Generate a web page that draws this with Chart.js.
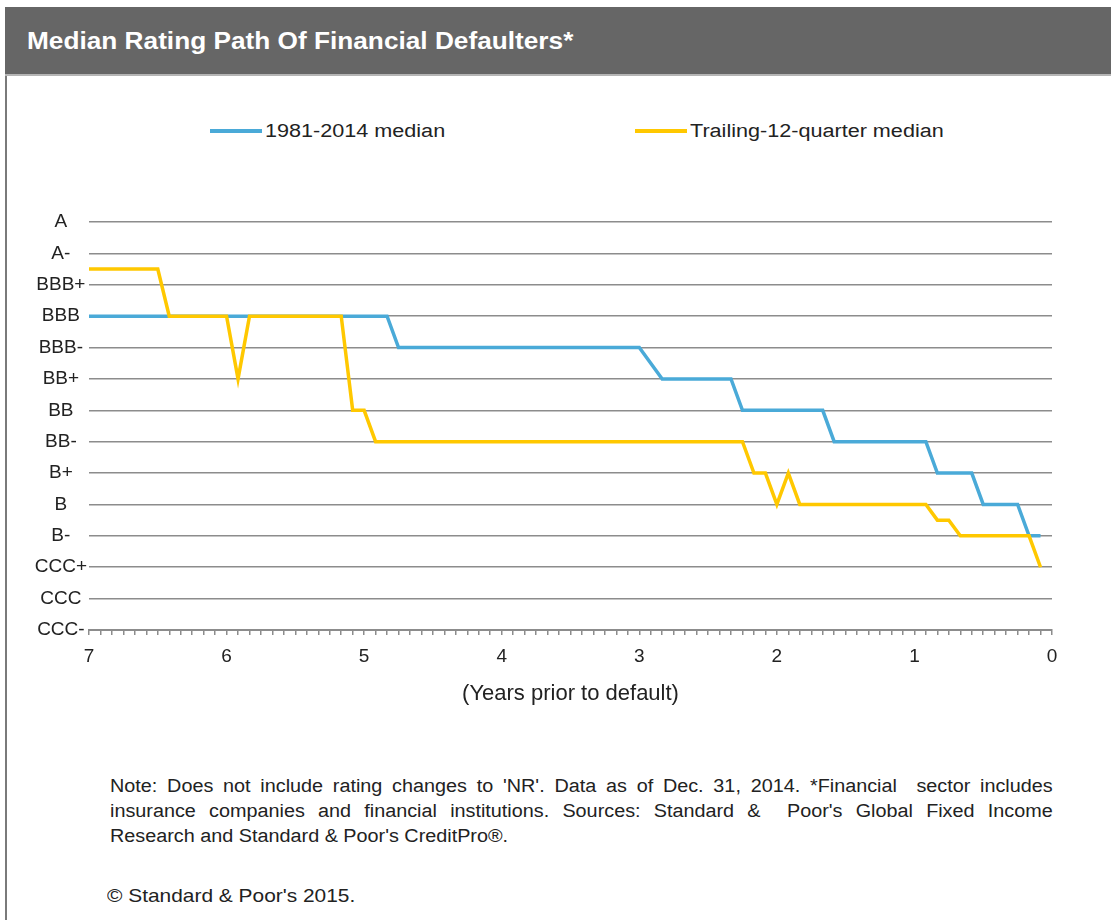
<!DOCTYPE html>
<html>
<head>
<meta charset="utf-8">
<script src="https://cdn.jsdelivr.net/npm/chart.js@4.4.1/dist/chart.umd.min.js"></script>
<style>
  html, body { margin: 0; padding: 0; background: #fff; width: 1111px; height: 920px; overflow: hidden; font-family: "Liberation Sans", Arial, sans-serif; color: #222; }
  #header { position: absolute; left: 5px; top: 7px; width: 1106px; height: 67px; background: #666666; border-bottom: 2px solid #b5b5b5; }
  #title { position: absolute; left: 22px; top: 21px; color: #fff; font-weight: bold; font-size: 23px; white-space: nowrap; transform: scaleX(1.14); transform-origin: left center; }
  #leftborder { position: absolute; left: 5px; top: 76px; width: 2px; height: 844px; background: #7a7a7a; }
  .legitem { position: absolute; top: 120px; height: 22px; }
  .legline { position: absolute; top: 9px; width: 52px; height: 4px; }
  .legtext { position: absolute; left: 55px; top: 1px; font-size: 18px; white-space: nowrap; transform: scaleX(1.2); transform-origin: left center; }
  #chartwrap { position: absolute; left: 0; top: 180px; width: 1111px; height: 540px; }
  #notes { position: absolute; left: 110px; top: 774px; width: 857px; font-size: 18px; line-height: 25px; transform: scaleX(1.1); transform-origin: left top; }
  #notes div { text-align: justify; text-align-last: justify; white-space: pre-wrap; }
  #notes div.last { text-align-last: left; }
  #copy { position: absolute; left: 107px; top: 885px; font-size: 19px; white-space: nowrap; transform: scaleX(1.1); transform-origin: left center; }
</style>
</head>
<body>
<div id="header"><div id="title">Median Rating Path Of Financial Defaulters*</div></div>
<div id="leftborder"></div>
<div id="legend"></div>
<div id="chartwrap"><canvas id="c" width="1111" height="540"></canvas></div>
<div id="notes">
  <div>Note: Does not include rating changes to 'NR'. Data as of Dec. 31, 2014. *Financial  sector includes</div>
  <div>insurance companies and financial institutions. Sources: Standard &amp;  Poor's Global Fixed Income</div>
  <div class="last">Research and Standard &amp; Poor's CreditPro®.</div>
</div>
<div id="copy">© Standard &amp; Poor's 2015.</div>
<script>
// Rating scale, bottom (0) to top (13)
const ratingLabels = ['CCC-','CCC','CCC+','B-','B','B+','BB-','BB','BB+','BBB-','BBB','BBB+','A-','A'];

// Months prior to default (x categories)
const monthsPrior = [84,83,82,81,80,79,78,77,76,75,74,73,72,71,70,69,68,67,66,65,64,63,62,61,60,59,58,57,56,55,54,53,52,51,50,49,48,47,46,45,44,43,42,41,40,39,38,37,36,35,34,33,32,31,30,29,28,27,26,25,24,23,22,21,20,19,18,17,16,15,14,13,12,11,10,9,8,7,6,5,4,3,2,1];

// Series values as positions on the rating scale (index into ratingLabels)
const median1981_2014 = [
  10,10,10,10,10,10,10,10,10,10,10,10,10,10,10,10,10,10,10,10,10,10,10,10,10,10,10,
  9,9,9,9,9,9,9,9,9,9,9,9,9,9,9,9,9,9,9,9,9,9,
  8.5,
  8,8,8,8,8,8,8,
  7,7,7,7,7,7,7,7,
  6,6,6,6,6,6,6,6,6,
  5,5,5,5,
  4,4,4,4,
  3,3
];
const trailing12QuarterMedian = [
  11.5,11.5,11.5,11.5,11.5,11.5,11.5,
  10,10,10,10,10,10,
  8,
  10,10,10,10,10,10,10,10,10,
  7,7,
  6,6,6,6,6,6,6,6,6,6,6,6,6,6,6,6,6,6,6,6,6,6,6,6,6,6,6,6,6,6,6,6,6,
  5,5,
  4,
  5,
  4,4,4,4,4,4,4,4,4,4,4,4,
  3.5,3.5,
  3,3,3,3,3,3,3,
  2
];

const seriesNames = ['1981-2014 median', 'Trailing-12-quarter median'];
const seriesColors = ['#4aaad8', '#ffc800'];
const xAxisTitle = '(Years prior to default)';

const toPoints = vals => vals.map((v, i) => ({ x: monthsPrior[i], y: v }));

const datasets = [
  { label: seriesNames[0], data: toPoints(median1981_2014), borderColor: seriesColors[0], backgroundColor: seriesColors[0], order: 1 },
  { label: seriesNames[1], data: toPoints(trailing12QuarterMedian), borderColor: seriesColors[1], backgroundColor: seriesColors[1], order: 0 }
].map(d => Object.assign(d, { borderWidth: 3.5, pointRadius: 0, tension: 0, fill: false, borderJoinStyle: 'miter', borderCapStyle: 'butt' }));

const tickFont = { family: '"Liberation Sans", Arial, sans-serif', size: 19 };

const chart = new Chart(document.getElementById('c'), {
  type: 'line',
  data: { datasets },
  options: {
    responsive: false,
    animation: false,
    devicePixelRatio: 1,
    layout: { padding: { left: 0, right: 59, top: 42, bottom: 0 } },
    plugins: { legend: { display: false }, tooltip: { enabled: false }, title: { display: false } },
    scales: {
      x: {
        type: 'linear', min: 0, max: 84, reverse: true,
        afterFit: s => { s.height = 90; },
        grid: { drawOnChartArea: false, drawTicks: true, tickLength: 5, color: '#8c8c8c', lineWidth: 1.5 },
        border: { display: true, color: '#8c8c8c', width: 2 },
        ticks: {
          stepSize: 1, autoSkip: false, maxRotation: 0, maxTicksLimit: 200, padding: 10,
          color: '#222', font: tickFont,
          callback: v => (v % 12 === 0 ? String(v / 12) : '')
        },
        title: { display: true, text: xAxisTitle, color: '#222', font: { family: tickFont.family, size: 22 }, padding: { top: 0, bottom: 13 } }
      },
      y: {
        type: 'linear', min: 0, max: 13,
        afterFit: s => { s.width = 89; },
        grid: { drawTicks: false, color: '#8c8c8c', lineWidth: 1.5 },
        border: { display: false },
        ticks: {
          stepSize: 1, autoSkip: false, padding: 2, crossAlign: 'center',
          color: '#222', font: tickFont,
          callback: v => ratingLabels[v] || ''
        }
      }
    }
  }
});

// HTML legend built from the chart's datasets
const legendPos = [210, 635];
const legendEl = document.getElementById('legend');
chart.data.datasets.forEach((ds, i) => {
  const item = document.createElement('div');
  item.className = 'legitem';
  item.style.left = legendPos[i] + 'px';
  const line = document.createElement('div');
  line.className = 'legline';
  line.style.background = ds.borderColor;
  const txt = document.createElement('div');
  txt.className = 'legtext';
  txt.textContent = ds.label;
  item.appendChild(line); item.appendChild(txt);
  legendEl.appendChild(item);
});
</script>
</body>
</html>
